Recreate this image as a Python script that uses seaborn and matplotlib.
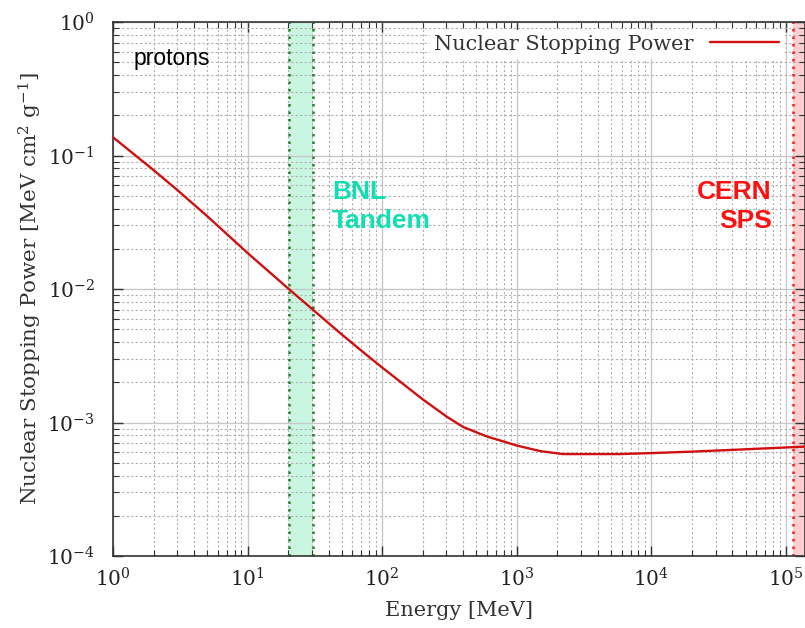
import numpy as np
import pandas as pd
import matplotlib
matplotlib.use("Agg")
import matplotlib.pyplot as plt
import seaborn as sns
from matplotlib.ticker import LogLocator, LogFormatterSciNotation, NullFormatter

# proton nuclear stopping power
energy_mev = [1, 2, 3, 5, 10, 20, 30, 50, 80, 100, 200, 300, 400, 600, 800, 1000, 1500,
              2200, 5800, 1e4, 2e4, 5e4, 1.4e5]
stopping_power = [0.137, 0.0778, 0.0552, 0.0352, 0.0186, 0.0101, 0.00711, 0.00457, 0.00309,
                  0.00258, 0.00149, 0.00111, 0.000925, 0.000785, 0.00072, 0.000672, 0.00061,
                  0.00058, 0.00058, 0.00059, 0.000605, 0.00063, 0.00066]

# beam energy windows
bnl_range = (20.3, 30.6)
cern_range = (1.13e5, 1.6e5)

sns.set_style("ticks")
plt.rcParams["mathtext.fontset"] = "dejavuserif"

df = pd.DataFrame({"Energy": energy_mev, "S": stopping_power})

fig = plt.figure(figsize=(8.05, 6.28), dpi=100)
ax = fig.add_axes([113 / 805, 72 / 628, 692 / 805, 534 / 628])

# shaded facility bands
ax.axvspan(*bnl_range, color="#c4f5de", alpha=0.9, lw=0, zorder=0.5)
for xv in bnl_range:
    ax.axvline(xv, color="#2e7d32", ls=(0, (1, 2)), lw=1.8, zorder=0.6)
ax.axvspan(*cern_range, color="#ffc9c9", alpha=0.9, lw=0, zorder=0.5)
ax.axvline(cern_range[0], color="#ff1a1a", ls=(0, (1, 2)), lw=1.8, zorder=0.6)

sns.lineplot(data=df, x="Energy", y="S", ax=ax, color="#d01010", lw=1.7,
             label="Nuclear Stopping Power", zorder=3)

ax.set_xscale("log")
ax.set_yscale("log")
ax.set_xlim(1, 10 ** 5.141)
ax.set_ylim(1e-4, 1)

ax.xaxis.set_major_locator(LogLocator(base=10, numticks=10))
ax.xaxis.set_minor_locator(LogLocator(base=10, subs=np.arange(2, 10), numticks=20))
ax.yaxis.set_major_locator(LogLocator(base=10, numticks=10))
ax.yaxis.set_minor_locator(LogLocator(base=10, subs=np.arange(2, 10), numticks=20))
ax.xaxis.set_major_formatter(LogFormatterSciNotation())
ax.yaxis.set_major_formatter(LogFormatterSciNotation())
ax.xaxis.set_minor_formatter(NullFormatter())
ax.yaxis.set_minor_formatter(NullFormatter())

ax.grid(which="major", color="#c8c8c8", ls="-", lw=1.0, zorder=0)
ax.grid(which="minor", color="#b0b0b0", ls=(0, (2, 2)), lw=0.8, zorder=0)
ax.set_axisbelow(True)

ax.tick_params(which="both", direction="in", top=True, right=True, colors="#333333")
ax.tick_params(which="major", length=7, width=1, labelsize=14.5, pad=8)
ax.tick_params(axis="y", which="major", pad=13)
ax.tick_params(which="minor", length=4, width=0.8)
for lab in ax.get_xticklabels() + ax.get_yticklabels():
    lab.set_family("DejaVu Serif")
    lab.set_color("#222222")
for s in ax.spines.values():
    s.set_color("#333333")
    s.set_linewidth(1.2)

ax.set_xlabel("Energy [MeV]", family="DejaVu Serif", fontsize=15, color="#333333", labelpad=8)
ax.set_ylabel("Nuclear Stopping Power [MeV cm$^{2}$ g$^{-1}$]", family="DejaVu Serif",
              fontsize=15.4, color="#333333", labelpad=2)

leg = ax.legend(loc="upper right", bbox_to_anchor=(0.971, 0.988), markerfirst=False,
                frameon=True, fancybox=False, framealpha=1, edgecolor="white",
                prop={"family": "DejaVu Serif", "size": 15}, handlelength=3.3,
                borderpad=0.2, borderaxespad=0.1, handletextpad=0.8)
for t in leg.get_texts():
    t.set_color("#333333")

ax.text(0.029, 0.919, "protons", transform=ax.transAxes, family="Liberation Sans",
        fontsize=16.5, color="black", va="baseline")
ax.text(0.3165, 0.655, "BNL\nTandem", transform=ax.transAxes, family="Liberation Sans",
        fontsize=19, fontweight="bold", color="#10dfb4", linespacing=1.25, va="center")
ax.text(0.952, 0.655, "CERN\nSPS", transform=ax.transAxes, family="Liberation Sans",
        fontsize=19, fontweight="bold", color="#ff1010", linespacing=1.25, va="center",
        ha="right", multialignment="right")

fig.savefig("out.png", dpi=100)
